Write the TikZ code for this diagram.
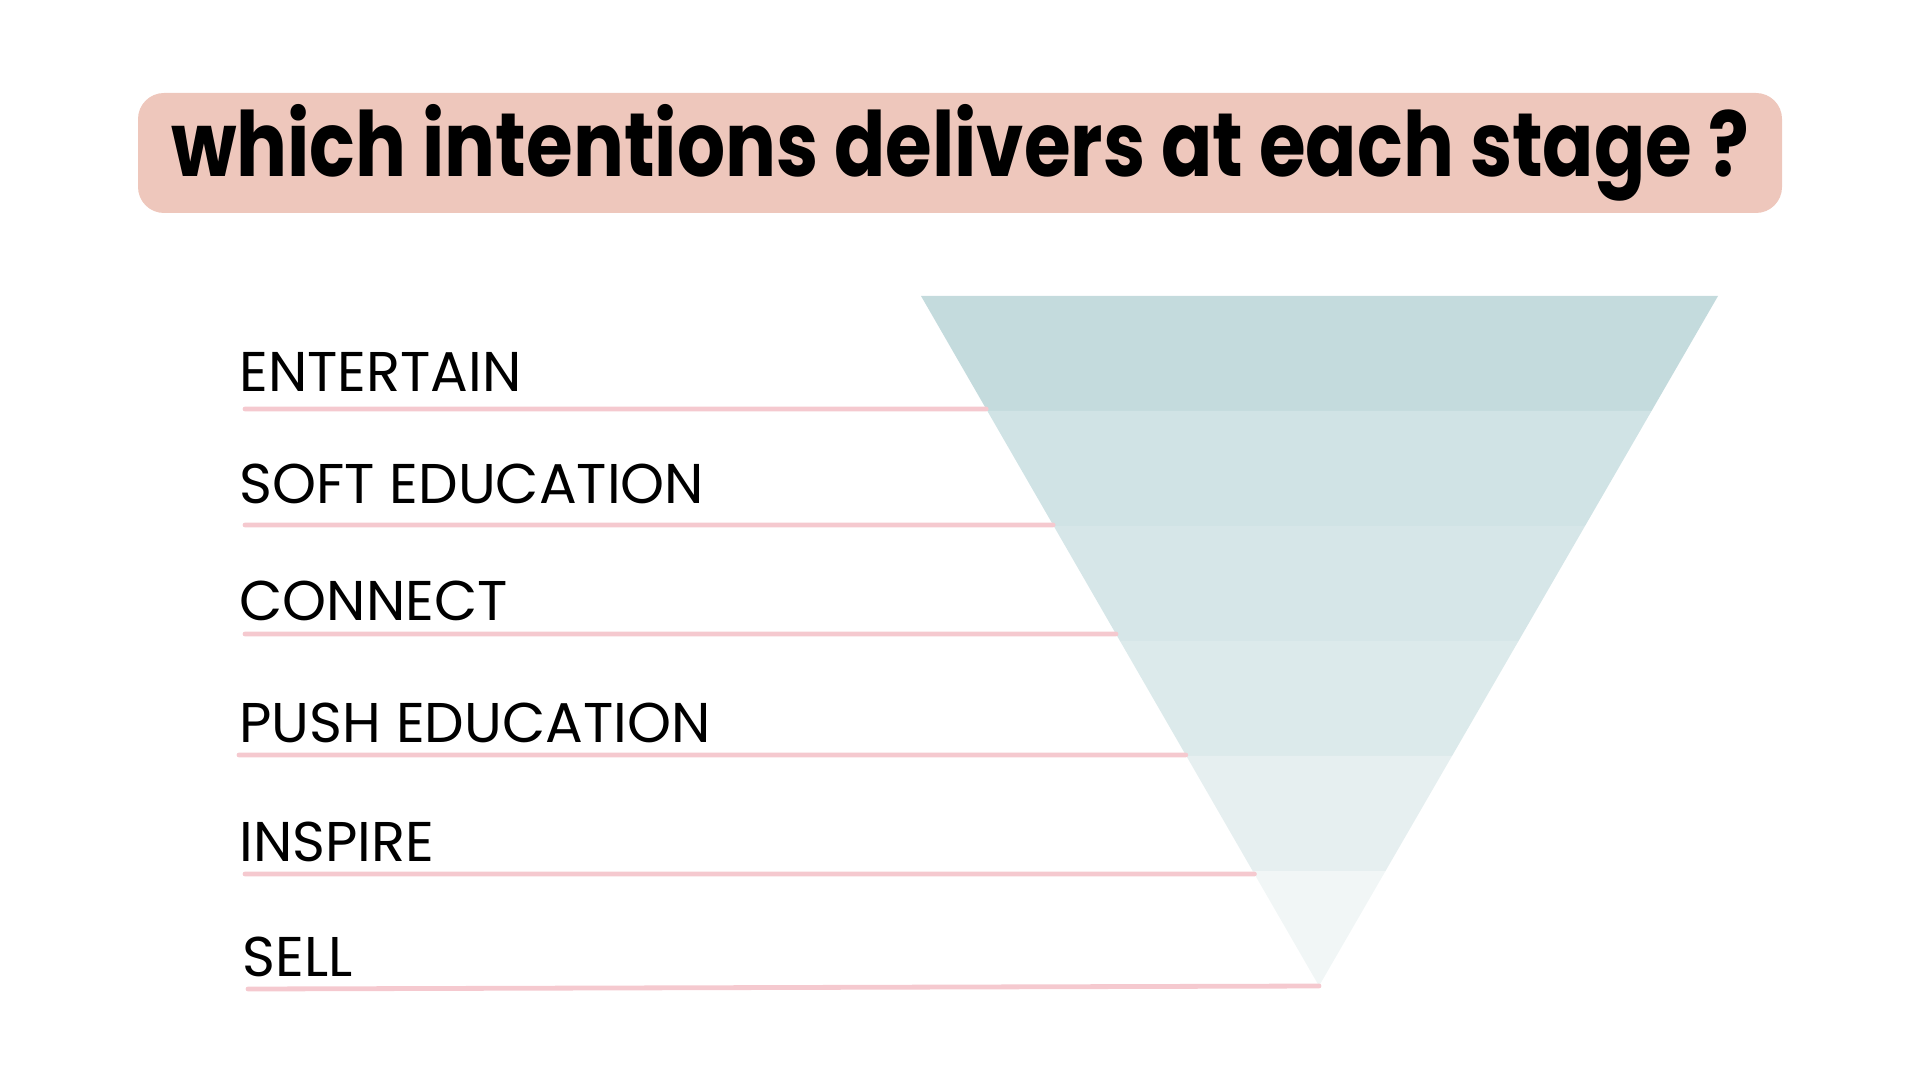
\documentclass[tikz,border=0pt]{standalone}
\usepackage{fontspec}
\setmainfont{Poppins}
\newfontfamily\titlefont{Poppins}[FakeStretch=0.84]
\newfontfamily\stagefont{Poppins}
\usetikzlibrary{calc}

\definecolor{titlepink}{HTML}{EEC7BC}
\definecolor{linepink}{HTML}{F5C9CF}
\definecolor{bandA}{HTML}{C4DBDD}
\definecolor{bandB}{HTML}{D0E3E5}
\definecolor{bandC}{HTML}{D6E6E8}
\definecolor{bandD}{HTML}{DCEAEB}
\definecolor{bandE}{HTML}{E6EFF0}
\definecolor{bandF}{HTML}{F1F6F6}

\begin{document}
\begin{tikzpicture}[
			x=0.5pt, y=-0.5pt,
			% Define the styles
			stage/.style={anchor=base west, inner sep=0pt, font=\stagefont\fontsize{28}{30}\selectfont},
			rule/.style={draw=linepink, line width=2.4pt, line cap=round}
			]
			
			\useasboundingbox (0,0) rectangle (1920,1080);
			
			\node (title) at (960,153) [fill=titlepink, rounded corners=13pt, minimum width=822pt, minimum height=60pt, inner sep=0pt]
			{\titlefont\bfseries\fontsize{45}{48}\selectfont which intentions delivers at each stage ?};
			
			\coordinate (tl) at (921,296);
			\coordinate (tr) at (1718,296);
			\coordinate (apex) at (1319,986);
			
			% bands of the funnel
			\foreach \col [count=\i from 0] in {bandA,bandB,bandC,bandD,bandE,bandF} {
				\pgfmathsetmacro{\ta}{\i/6}
				\pgfmathsetmacro{\tb}{(\i+1)/6}
				\fill[\col] ($(tl)!\ta!(apex)$) -- ($(tr)!\ta!(apex)$) -- ($(tr)!\tb!(apex)$) -- ($(tl)!\tb!(apex)$) -- cycle;
			}
			
			\node (s1) at (239,392) [stage] {ENTERTAIN};
			\node (s2) at (239,503) [stage] {SOFT EDUCATION};
			\node (s3) at (239,620) [stage] {CONNECT};
			\node (s4) at (239,742) [stage] {PUSH EDUCATION};
			\node (s5) at (239,861) [stage] {INSPIRE};
			\node (s6) at (242,976) [stage] {SELL};
			
			\coordinate (l1) at (245,409);
			\coordinate (l2) at (245,525);
			\coordinate (l3) at (245,634);
			\coordinate (l4) at (239,755);
			\coordinate (l5) at (245,874);
			\coordinate (l6) at (248,989);
			
			\coordinate (e1) at ($(tl)!0.1638!(apex)$);
			\coordinate (e2) at ($(tl)!0.3319!(apex)$);
			\coordinate (e3) at ($(tl)!0.4899!(apex)$);
			\coordinate (e4) at ($(tl)!0.6652!(apex)$);
			\coordinate (e5) at ($(tl)!0.8377!(apex)$);
			
			\draw[rule] (l1) -- (e1);
			\draw[rule] (l2) -- (e2);
			\draw[rule] (l3) -- (e3);
			\draw[rule] (l4) -- (e4);
			\draw[rule] (l5) -- (e5);
			\draw[rule] (l6) -- (apex);
			
		\end{tikzpicture}
\end{document}
